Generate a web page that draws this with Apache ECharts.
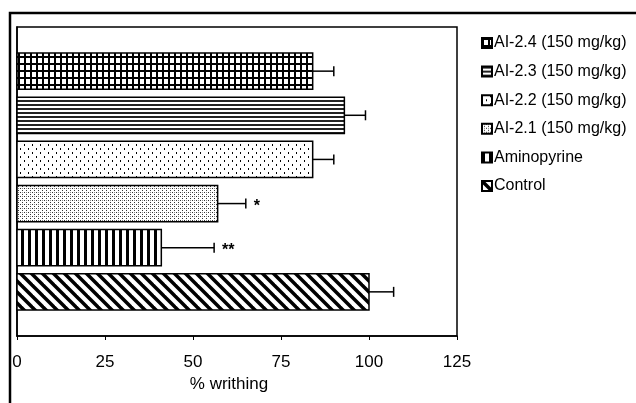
<!DOCTYPE html>
<html><head><meta charset="utf-8">
<script src="https://cdn.jsdelivr.net/npm/echarts@6/dist/echarts.min.js"></script>
<style>html,body{margin:0;padding:0;background:#fff}#c{width:636px;height:403px}</style>
</head><body><div id="c"></div>
<script>
// ---- data ----
const groups = ['AI-2.4 (150 mg/kg)','AI-2.3 (150 mg/kg)','AI-2.2 (150 mg/kg)','AI-2.1 (150 mg/kg)','Aminopyrine','Control'];
const positions = [6,5,4,3,2,1];           // slot on the vertical axis (top to bottom)
const writhing = [84, 93, 84, 57, 41, 100]; // % writhing
const errors = [6, 6, 6, 8, 15, 7];
const marks = ['', '', '', '*', '**', ''];
const xTicks = [0, 25, 50, 75, 100, 125];

// ---- fill patterns ----
function tile(w,h,draw){const c=document.createElement('canvas');c.width=w;c.height=h;const x=c.getContext('2d');x.fillStyle='#fff';x.fillRect(0,0,w,h);x.fillStyle='#000';x.strokeStyle='#000';draw(x,w,h);return c;}
const patterns = [
  tile(6,7,(x)=>{x.fillRect(0,0,6,2);x.fillRect(0,0,2,7);}),           // grid
  tile(4,4,(x)=>{x.fillStyle='#222';x.fillRect(0,0,4,2);}),             // horizontal lines
  tile(8,8,(x)=>{x.fillRect(0,0,1,2);x.fillRect(4,4,1,2);}),           // sparse dots
  tile(4,4,(x)=>{x.fillStyle='#333';x.fillRect(0,0,1,1);x.fillRect(2,2,1,1);x.fillStyle='#888';x.fillRect(2,0,1,1);}), // dense dots
  tile(7,4,(x)=>{x.fillRect(0,0,3,4);}),                                 // vertical stripes
  tile(11,11,(x)=>{x.lineWidth=3.5;for(const o of [-11,0,11]){x.beginPath();x.moveTo(o-2,-2);x.lineTo(o+13,13);x.stroke();}}) // diagonal
];
const FONT='"Liberation Sans", Arial, sans-serif';

const series = groups.map((g,i)=>({
  type:'custom', name:g,
  itemStyle:{color:{image:patterns[i],repeat:'repeat'},borderColor:'#000',borderWidth:1},
  data:[[writhing[i], positions[i], errors[i]]],
  encode:{x:[0],y:1},
  renderItem:(params,api)=>{
    const v=api.value(0), y=api.value(1), e=api.value(2), m=marks[i];
    const p0=api.coord([0,y]), p1=api.coord([v,y]), p2=api.coord([v+e,y]);
    const h=api.size([0,0.82])[1];
    const ch=[
      {type:'rect',shape:{x:p0[0],y:p0[1]-h/2,width:p1[0]-p0[0],height:h},
       style:{fill:{image:patterns[i],repeat:'repeat'},stroke:'#000',lineWidth:1.5}},
      {type:'line',shape:{x1:p1[0],y1:p1[1],x2:p2[0],y2:p2[1]},style:{stroke:'#000',lineWidth:1.5}},
      {type:'line',shape:{x1:p2[0],y1:p2[1]-5,x2:p2[0],y2:p2[1]+5},style:{stroke:'#000',lineWidth:1.5}}
    ];
    if(m) ch.push({type:'text',x:p2[0]+8,y:p2[1]+3,style:{text:m,fill:'#000',font:'bold 16px '+FONT,textVerticalAlign:'middle'}});
    return {type:'group',children:ch};
  }
}));

const chart = echarts.init(document.getElementById('c'));
chart.setOption({
  animation:false,
  backgroundColor:'#fff',
  graphic:[{type:'polyline',shape:{points:[[10,410],[10,13],[640,13]]},style:{stroke:'#000',lineWidth:2.5,fill:null}}],
  grid:{left:17,top:27,right:179,bottom:67,show:true,borderColor:'#000',borderWidth:1.5},
  xAxis:{type:'value',min:xTicks[0],max:xTicks[xTicks.length-1],interval:25,
    axisLine:{show:true,lineStyle:{color:'#000',width:1.5}},
    axisTick:{show:true,length:4,lineStyle:{color:'#000'}},
    splitLine:{show:false},
    axisLabel:{color:'#000',fontSize:17,margin:18,fontFamily:FONT},
    name:'% writhing',nameLocation:'middle',nameGap:37,
    nameTextStyle:{color:'#000',fontSize:17,fontFamily:FONT,padding:[0,16,0,0]}},
  yAxis:{type:'value',min:0,max:7,axisLine:{show:true,lineStyle:{color:'#000',width:1.5}},axisTick:{show:false},axisLabel:{show:false},splitLine:{show:false}},
  legend:{orient:'vertical',left:481,top:35,padding:0,itemGap:12.6,itemWidth:10,itemHeight:10,icon:'rect',
    textStyle:{color:'#000',fontSize:16,fontFamily:FONT,padding:[0,0,0,-3]},
    data:groups},
  series:series
});
</script></body></html>
